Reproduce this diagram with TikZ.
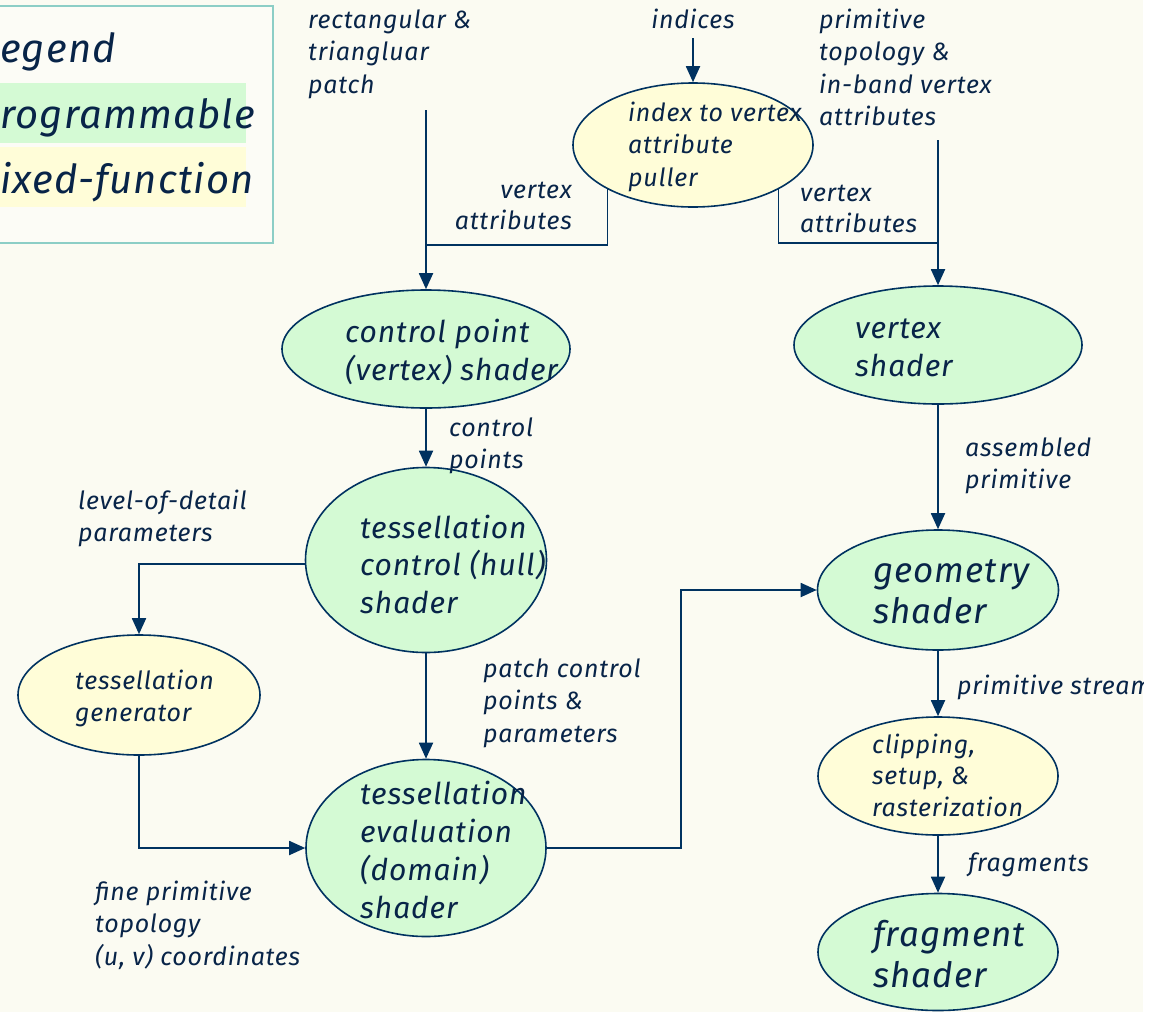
\documentclass[tikz,border=0pt]{standalone}
\usepackage{fontspec}
\setmainfont{Fira Sans}
\newfontfamily\diagfont[LetterSpace=3]{Fira Sans}
\usetikzlibrary{arrows.meta,shapes.geometric}

\definecolor{ink}{RGB}{0,50,96}
\definecolor{txtc}{RGB}{8,36,72}
\definecolor{progfill}{RGB}{212,250,212}
\definecolor{fixfill}{RGB}{255,253,216}
\definecolor{bgc}{RGB}{251,251,242}
\definecolor{legborder}{RGB}{140,206,198}
\definecolor{legfill}{RGB}{252,252,246}

% multi-line texts are placed by the baseline of their last line
\tikzset{
  shape base/.style={ellipse, draw=ink, line width=1.6pt, inner sep=0pt},
  prog/.style={shape base, fill=progfill},
  fixed/.style={shape base, fill=fixfill},
  lbl/.style={font=\diagfont\itshape\fontsize{25}{32.5}\selectfont, text=txtc, align=left, inner sep=0pt, anchor=base west},
  midtxt/.style={font=\diagfont\itshape\fontsize{30}{37.5}\selectfont, text=txtc, align=left, inner sep=0pt, anchor=base west},
  bigtxt/.style={font=\diagfont\itshape\fontsize{35}{40.5}\selectfont, text=txtc, align=left, inner sep=0pt, anchor=base west},
  legtxt/.style={font=\diagfont\itshape\fontsize{40}{65}\selectfont, text=txtc, inner sep=0pt, anchor=base west},
  wire/.style={draw=ink, line width=1.8pt},
  conn/.style={wire, -{Triangle[length=16pt,width=14pt]}},
}

\begin{document}
\begin{tikzpicture}[x=1pt,y=-1pt]
\useasboundingbox (0,0) rectangle (1161,1012);
\fill[white] (0,0) rectangle (1161,1012);
\begin{scope}
\clip (0,0) rectangle (1143,1012);
\fill[bgc] (0,0) rectangle (1143,1012);

% legend
\draw[legborder, fill=legfill, line width=1.6pt] (-40,6) rectangle (273,243);
\fill[progfill] (-40,83) rectangle (246,143);
\fill[fixfill] (-40,147) rectangle (246,207);
\node[legtxt] (leg-title) at (0,62) {egend};
\node[legtxt] (leg-prog) at (0,128) {rogrammable};
\node[legtxt] (leg-fixed) at (0,193) {ixed-function};

% stages
\node[fixed, minimum width=240pt, minimum height=124pt] (puller) at (693,145) {};
\node[prog, minimum width=288pt, minimum height=118pt] (cps) at (426,349) {};
\node[prog, minimum width=288pt, minimum height=118pt] (vs) at (938,345) {};
\node[prog, minimum width=241pt, minimum height=185pt] (tcs) at (426,560) {};
\node[prog, minimum width=241pt, minimum height=120pt] (gs) at (938,590) {};
\node[fixed, minimum width=242pt, minimum height=120pt] (tg) at (139,695) {};
\node[prog, minimum width=240pt, minimum height=177pt] (tes) at (426,848) {};
\node[fixed, minimum width=240pt, minimum height=118pt] (clip) at (938,776) {};
\node[prog, minimum width=240pt, minimum height=117pt] (frag) at (938,952) {};

% stage texts
\node[lbl] (puller-t) at (628,186) {index to vertex\\attribute\\puller};
\node[midtxt] (cps-t) at (345,380) {control point\\(vertex) shader};
\node[midtxt] (vs-t) at (855,376) {vertex\\shader};
\node[midtxt] (tcs-t) at (360,613) {tessellation\\control (hull)\\shader};
\node[bigtxt] (gs-t) at (873,623) {geometry\\shader};
\node[lbl] (tg-t) at (75,721.5) {tessellation\\generator};
\node[midtxt, font=\diagfont\itshape\fontsize{30}{37.7}\selectfont] (tes-t) at (360,918) {tessellation\\evaluation\\(domain)\\shader};
\node[lbl, font=\diagfont\itshape\fontsize{25}{31.5}\selectfont] (clip-t) at (872,816) {clipping,\\setup, \&\\rasterization};
\node[bigtxt] (frag-t) at (873,987) {fragment\\shader};

% connector labels
\node[lbl, anchor=base] (l-indices) at (693,28) {indices};
\node[lbl] (l-patch) at (308,93) {rectangular \&\\triangluar\\patch};
\node[lbl] (l-prim) at (819,125.5) {primitive\\topology \&\\in-band vertex\\attributes};
\node[lbl, align=right, anchor=base east, font=\diagfont\itshape\fontsize{25}{31}\selectfont] (l-va1) at (572,229) {vertex\\attributes};
\node[lbl, font=\diagfont\itshape\fontsize{25}{31}\selectfont] (l-va2) at (800,232) {vertex\\attributes};
\node[lbl] (l-cp) at (449,468.5) {control\\points};
\node[lbl] (l-asm) at (965,488.5) {assembled\\primitive};
\node[lbl] (l-lod) at (78,541.5) {level-of-detail\\parameters};
\node[lbl] (l-pcp) at (483,742) {patch control\\points \&\\parameters};
\node[lbl] (l-fine) at (95,965) {fine primitive\\topology\\(u, v) coordinates};
\node[lbl] (l-ps) at (957,694) {primitive stream};
\node[lbl] (l-frag) at (968,871) {fragments};

% connector end points
\coordinate (in-idx) at (693,38);
\coordinate (in-patch) at (426,110);
\coordinate (in-prim) at (938,140);
\coordinate (join-l) at (426,245);
\coordinate (join-r) at (938,243);
\coordinate (riser) at (681,0);

% connectors
\draw[conn] (in-idx) -- (puller.north);
\draw[conn] (in-patch) -- (cps.north);
\draw[wire] (puller.south west) |- (join-l);
\draw[conn] (in-prim) -- (vs.north);
\draw[wire] (puller.south east) |- (join-r);
\draw[conn] (cps.south) -- (tcs.north);
\draw[conn] (vs.south) -- (gs.north);
\draw[conn] (tcs.182) -| (tg.north);
\draw[conn] (tcs.south) -- (tes.north);
\draw[conn] (tg.south) |- (tes.west);
\draw[conn] (tes.east) -| (riser |- gs.west) -- (gs.west);
\draw[conn] (gs.south) -- (clip.north);
\draw[conn] (clip.south) -- (frag.north);
\end{scope}
\end{tikzpicture}
\end{document}
